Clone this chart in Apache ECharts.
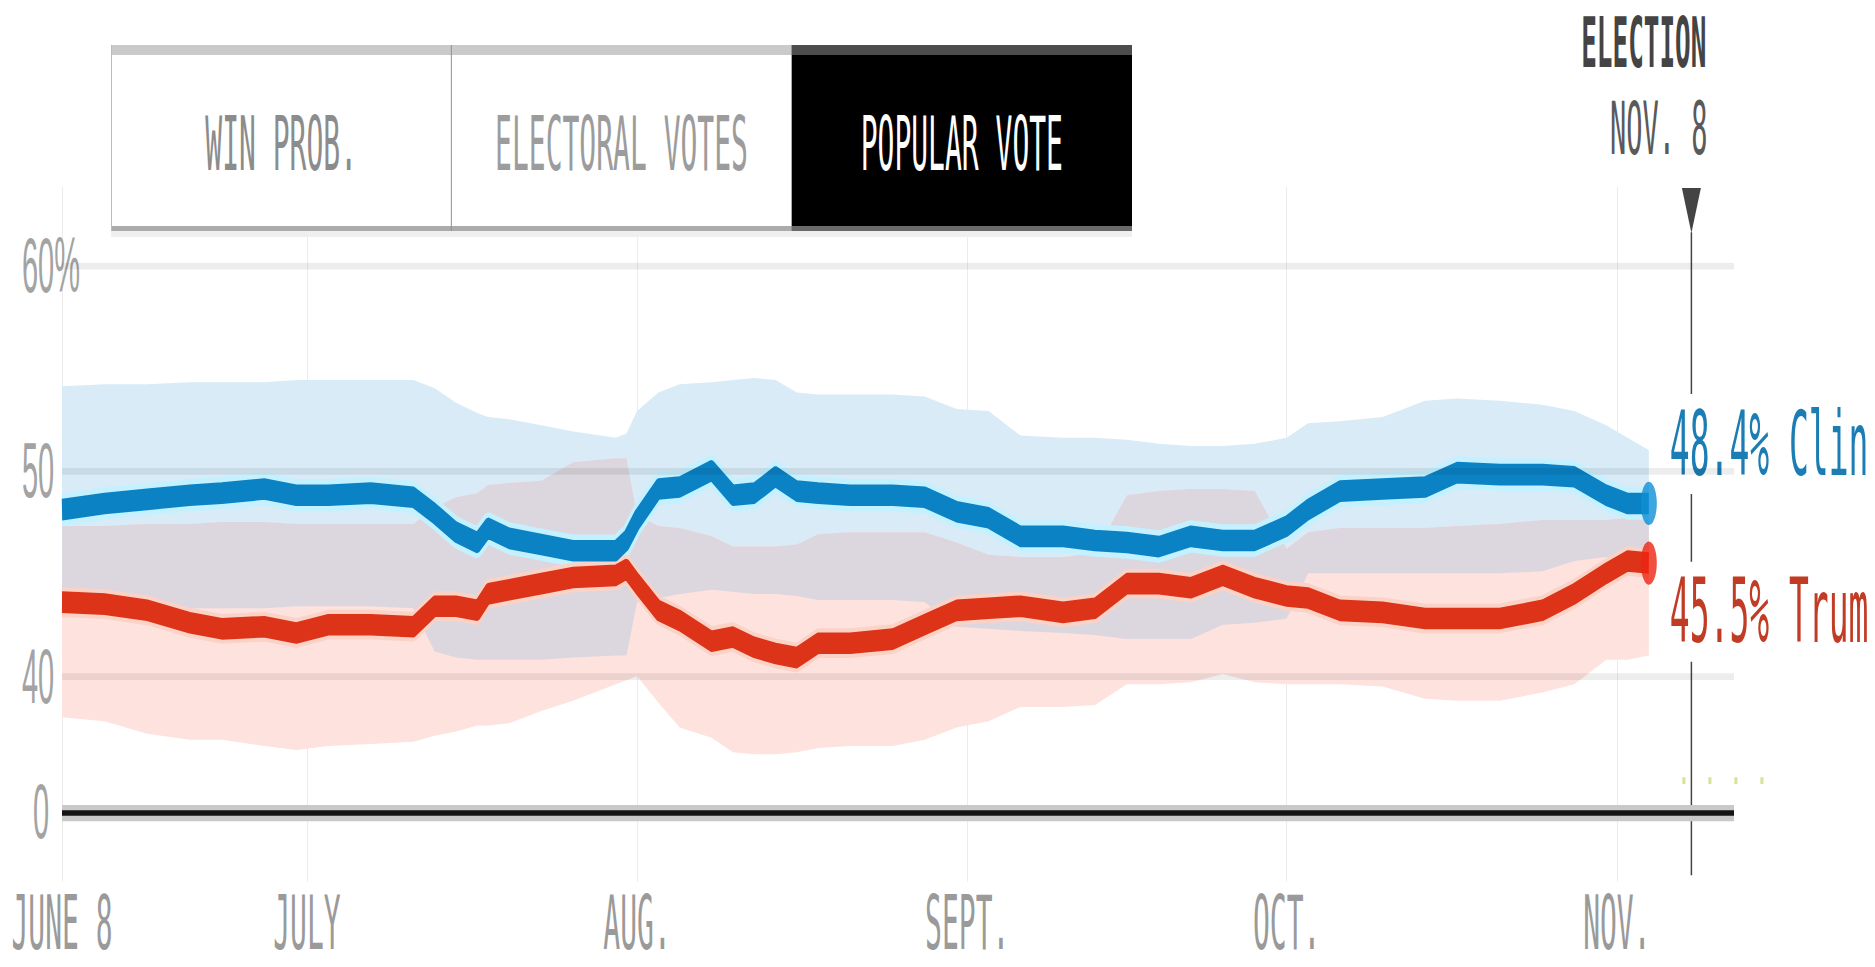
<!DOCTYPE html>
<html>
<head>
<meta charset="utf-8">
<title>Popular vote forecast</title>
<script src="https://cdn.jsdelivr.net/npm/echarts@6.0.0/dist/echarts.min.js"></script>
<style>
  html { margin: 0; padding: 0; background: #fff; overflow: hidden; }
  body { margin: 0; padding: 0; width: 1875px; height: 967px; }
  /* the source picture is stretched vertically, so the chart is drawn at its
     natural height and then stretched the same way */
  #chart { width: 1875px; height: 358px; transform: scaleY(2.7011); transform-origin: 0 0; }
</style>
</head>
<body>
<div id="chart"></div>
<script>
const MONO = '"DejaVu Sans Mono", "Liberation Mono", monospace'
// plain (undotted) zeros for the axis numbers
const NUM_FONT = '"Liberation Sans", Arial, sans-serif'

const dates = [
  '2016-06-08', '2016-06-12', '2016-06-16', '2016-06-20', '2016-06-23', '2016-06-27', '2016-06-30',
  '2016-07-03', '2016-07-07', '2016-07-11', '2016-07-13', '2016-07-15', '2016-07-17', '2016-07-18',
  '2016-07-20', '2016-07-23', '2016-07-26', '2016-07-30', '2016-07-31',
  '2016-08-01', '2016-08-03', '2016-08-05', '2016-08-08', '2016-08-10', '2016-08-12', '2016-08-14',
  '2016-08-16', '2016-08-18', '2016-08-21', '2016-08-25', '2016-08-28', '2016-08-31',
  '2016-09-03', '2016-09-06', '2016-09-10', '2016-09-13', '2016-09-16', '2016-09-19', '2016-09-22',
  '2016-09-25', '2016-09-28',
  '2016-10-01', '2016-10-03', '2016-10-06', '2016-10-10', '2016-10-14', '2016-10-17', '2016-10-21',
  '2016-10-25', '2016-10-28', '2016-10-31',
  '2016-11-02', '2016-11-04'
]

// projected popular vote share, %
const clinton = [
  48.1, 48.4, 48.6, 48.8, 48.9, 49.1, 48.8,
  48.8, 48.9, 48.7, 47.9, 47.0, 46.5, 47.2, 46.7, 46.4, 46.1, 46.1, 46.6,
  47.6, 49.1, 49.2, 50.0, 48.8, 48.9, 49.7, 49.0, 48.9, 48.8, 48.8, 48.7, 48.0,
  47.7, 46.8, 46.8, 46.6, 46.5, 46.3, 46.8, 46.6, 46.6,
  47.3, 48.1, 49.0, 49.1, 49.2, 49.9, 49.8, 49.8, 49.7, 48.8,
  48.4, 48.4
]
const trump = [
  43.6, 43.5, 43.2, 42.6, 42.3, 42.4, 42.1,
  42.5, 42.5, 42.4, 43.4, 43.4, 43.2, 44.0, 44.2, 44.5, 44.8, 44.9, 45.2,
  44.5, 43.2, 42.7, 41.7, 41.9, 41.4, 41.1, 40.9, 41.6, 41.6, 41.8, 42.5, 43.2,
  43.3, 43.4, 43.1, 43.3, 44.5, 44.5, 44.3, 44.9, 44.3,
  43.9, 43.8, 43.2, 43.1, 42.8, 42.8, 42.8, 43.2, 44.0, 45.0,
  45.6, 45.5
]

// 80% ranges
const clintonHigh = [
  54.1, 54.2, 54.2, 54.3, 54.3, 54.3, 54.4,
  54.4, 54.4, 54.4, 54.0, 53.3, 52.8, 52.6, 52.5, 52.2, 51.9, 51.6, 51.8,
  52.9, 53.8, 54.2, 54.3, 54.4, 54.5, 54.4, 53.8, 53.7, 53.7, 53.7, 53.6, 53.0,
  52.9, 51.7, 51.6, 51.6, 51.5, 51.3, 51.2, 51.2, 51.3,
  51.6, 52.3, 52.4, 52.6, 53.4, 53.5, 53.4, 53.2, 52.9, 52.2,
  51.6, 51.0
]
const clintonLow = [
  43.2, 43.2, 43.3, 43.3, 43.3, 43.3, 43.4,
  43.4, 43.4, 43.3, 41.2, 40.9, 40.8, 40.8, 40.8, 40.8, 40.9, 41.0, 41.0,
  43.6, 43.8, 44.0, 44.2, 44.1, 44.0, 44.0, 43.9, 43.7, 43.7, 43.7, 43.6, 42.4,
  42.3, 42.2, 42.1, 42.0, 41.8, 41.8, 41.8, 42.5, 42.6,
  42.8, 45.0, 45.0, 45.0, 45.0, 45.0, 45.0, 45.1, 45.6, 45.8,
  45.8, 45.8
]
const trumpHigh = [
  47.3, 47.3, 47.4, 47.4, 47.5, 47.5, 47.4,
  47.4, 47.4, 47.4, 48.2, 48.7, 48.9, 49.3, 49.4, 49.5, 50.4, 50.6, 50.6,
  47.8, 47.3, 47.2, 46.8, 46.3, 46.3, 46.3, 46.4, 46.9, 47.0, 47.0, 47.0, 46.5,
  45.9, 45.8, 45.8, 46.0, 48.8, 49.0, 49.1, 49.1, 49.0,
  46.2, 47.0, 47.2, 47.2, 47.2, 47.3, 47.4, 47.6, 47.6, 47.6,
  47.7, 47.7
]
const trumpLow = [
  38.0, 37.8, 37.2, 36.9, 36.9, 36.6, 36.4,
  36.6, 36.7, 36.8, 37.1, 37.3, 37.6, 37.6, 37.7, 38.3, 38.8, 39.6, 39.8,
  40.0, 38.7, 37.5, 37.0, 36.3, 36.2, 36.2, 36.3, 36.5, 36.6, 36.6, 36.9, 37.5,
  37.8, 38.5, 38.5, 38.6, 39.6, 39.6, 39.7, 40.1, 39.7,
  39.6, 39.6, 39.6, 39.5, 38.9, 38.8, 38.8, 39.2, 39.6, 40.8,
  40.8, 41.0
]

const xTickDates = ['2016-06-08', '2016-07-01', '2016-08-01', '2016-09-01', '2016-10-01', '2016-11-01']
const xTickLabels = ['JUNE 8', 'JULY', 'AUG.', 'SEPT.', 'OCT.', 'NOV.']
const xEnd = '2016-11-12'

// the y axis is broken: the "0" line sits just under the 40 line
const ZERO_AT = 33.4
const yTickValues = [ZERO_AT, 40, 50, 60]
const yTickLabels = ['0', '40', '50', '60%']
const gridValues = [40, 50, 60]

const tabs = ['WIN PROB.', 'ELECTORAL VOTES', 'POPULAR VOTE']
const activeTab = 2
const electionDate = '2016-11-08'

const toTime = (s) => new Date(s + 'T00:00:00').getTime()
const last = (arr) => arr[arr.length - 1]
const times = dates.map(toTime)
const pairs = (values) => times.map((t, i) => [t, values[i]])

const xTickValues = xTickDates.map(toTime)
const overlapLow = clintonLow.map((v, i) => Math.max(v, trumpLow[i]))
const overlapHigh = clintonHigh.map((v, i) => Math.min(v, trumpHigh[i]))

// shaded range between two edges, placed through the axes with api.coord
const band = (name, lo, hi, color) => ({
  name,
  type: 'custom',
  silent: true,
  z: 1,
  data: [[times[0], lo[0]]],
  renderItem: (params, api) => {
    const top = times.map((t, i) => api.coord([t, hi[i]]))
    const bottom = times.map((t, i) => api.coord([t, lo[i]])).reverse()
    return { type: 'polygon', shape: { points: top.concat(bottom) }, style: { fill: color } }
  }
})

const endLabel = (text, color, dy) => ({
  show: true,
  formatter: () => text,
  distance: 0,
  offset: [21, dy],
  color,
  fontFamily: MONO,
  fontSize: 33,
  lineHeight: 33,
  backgroundColor: '#fff',
  padding: [2, 0],
  width: 205,
  overflow: 'truncate',
  ellipsis: ''
})

const chart = echarts.init(document.getElementById('chart'), null, { renderer: 'svg' })

const option = {
  animation: false,
  grid: { left: 62, right: 141, top: 69.2, bottom: 31.6 },
  xAxis: {
    type: 'value',
    min: toTime(dates[0]),
    max: toTime(xEnd),
    axisLine: { show: false },
    axisTick: { show: false, customValues: xTickValues },
    axisLabel: {
      customValues: xTickValues,
      formatter: (val) => {
        const i = xTickValues.indexOf(val)
        return i >= 0 ? xTickLabels[i] : ''
      },
      color: '#9a9a9a',
      fontFamily: MONO,
      fontSize: 28,
      lineHeight: 26,
      margin: 15,
      verticalAlign: 'middle'
    },
    splitLine: { show: true, lineStyle: { color: '#ececec', width: 1 } }
  },
  yAxis: {
    type: 'value',
    min: 30,
    max: 63.8,
    axisLine: { show: false },
    axisTick: { show: false },
    splitLine: { show: false },
    axisLabel: {
      customValues: yTickValues,
      formatter: (val) => {
        const i = yTickValues.indexOf(val)
        if (i < 0) return ''
        return val === ZERO_AT ? '{zero|' + yTickLabels[i] + '}' : yTickLabels[i]
      },
      align: 'left',
      margin: 40,
      color: '#a3a3a3',
      fontFamily: NUM_FONT,
      fontSize: 29,
      rich: {
        zero: { padding: [0, 0, 0, 11], color: '#a3a3a3', fontFamily: NUM_FONT, fontSize: 29 }
      }
    }
  },
  series: [
    band('clintonBand', clintonLow, clintonHigh, '#d8ebf7'),
    band('trumpBand', trumpLow, trumpHigh, '#fde2de'),
    band('overlap', overlapLow, overlapHigh, '#dcd6de'),
    {
      name: 'clinton-halo', type: 'line', data: pairs(clinton), symbol: 'none', silent: true, z: 3,
      lineStyle: { color: '#c4f1ff', width: 12 },
      markLine: {
        silent: true,
        symbol: ['none', 'none'],
        label: { show: false },
        data: [
          ...gridValues.map((v) => ({ yAxis: v, lineStyle: { color: 'rgba(0,0,0,0.07)', width: 2.5, type: 'solid' } })),
          { yAxis: ZERO_AT, lineStyle: { color: '#c9c9c9', width: 6, type: 'solid' } },
          { yAxis: ZERO_AT, lineStyle: { color: '#141414', width: 2, type: 'solid' } }
        ]
      }
    },
    {
      name: 'trump-halo', type: 'line', data: pairs(trump), symbol: 'none', silent: true, z: 3,
      lineStyle: { color: '#fbd2c6', width: 11 }
    },
    {
      name: 'Clinton', type: 'line', data: pairs(clinton), symbol: 'none', z: 4,
      lineStyle: { color: '#0b82c4', width: 8 },
      endLabel: endLabel(last(clinton).toFixed(1) + '% Clinton', '#1b7db3', -22)
    },
    {
      name: 'Trump', type: 'line', data: pairs(trump), symbol: 'none', z: 4,
      lineStyle: { color: '#dc3319', width: 8 },
      endLabel: endLabel(last(trump).toFixed(1) + '% Trump', '#c23b24', 18)
    },
    {
      name: 'latest', type: 'scatter', symbolSize: 16, z: 5, silent: true,
      data: [
        { value: [last(times), last(clinton)], itemStyle: { color: '#0e8fd6' } },
        { value: [last(times), last(trump)], itemStyle: { color: '#ee2412' } }
      ]
    }
  ]
}

chart.setOption(option)

// tab bar and election marker
const ex = chart.convertToPixel({ xAxisIndex: 0 }, toTime(electionDate))
const tabLeft = 111
const tabW = (1132 - 111) / tabs.length
const tabTop = 16.7
const tabBottom = 85.5

const graphics = [
  { type: 'rect', z: 100, shape: { x: tabLeft, y: tabBottom, width: tabW * 3, height: 2.2 }, style: { fill: '#efefef' } }
]
tabs.forEach((t, i) => {
  const x = tabLeft + i * tabW
  const on = i === activeTab
  graphics.push(
    { type: 'rect', z: 100, shape: { x, y: tabTop, width: tabW, height: tabBottom - tabTop }, style: { fill: on ? '#000' : '#fff' } },
    { type: 'rect', z: 101, shape: { x, y: tabTop, width: tabW, height: 3.7 }, style: { fill: on ? '#4d4d4d' : '#cacaca' } },
    { type: 'rect', z: 101, shape: { x, y: tabBottom - 1.8, width: tabW, height: 1.8 }, style: { fill: on ? '#6a6a6a' : '#ababab' } },
    {
      type: 'text', z: 102,
      style: {
        text: t, x: x + tabW / 2, y: 53,
        font: '28px ' + MONO,
        fill: ['#8c8c8c', '#9c9c9c', '#ffffff'][i],
        align: 'center', verticalAlign: 'middle',
        textAlign: 'center', textVerticalAlign: 'middle'
      }
    }
  )
})
graphics.push(
  { type: 'line', z: 101, shape: { x1: tabLeft + 0.5, y1: tabTop, x2: tabLeft + 0.5, y2: tabBottom }, style: { stroke: '#bbbbbb', lineWidth: 1 } },
  { type: 'line', z: 101, shape: { x1: tabLeft + tabW, y1: tabTop, x2: tabLeft + tabW, y2: tabBottom }, style: { stroke: '#8f8f8f', lineWidth: 1 } },
  {
    type: 'text', z: 20,
    style: {
      text: 'ELECTION', x: ex + 15, y: 15.8, font: 'bold 26px ' + MONO, fill: '#444444', lineHeight: 26,
      align: 'right', verticalAlign: 'middle', textAlign: 'right', textVerticalAlign: 'middle'
    }
  },
  {
    type: 'text', z: 20,
    style: {
      text: 'NOV. 8', x: ex + 16, y: 47.8, font: '27px ' + MONO, fill: '#5a5a5a',
      align: 'right', verticalAlign: 'middle', textAlign: 'right', textVerticalAlign: 'middle'
    }
  },
  { type: 'polygon', z: 20, shape: { points: [[ex - 9.5, 69.6], [ex + 9.5, 69.6], [ex, 86.3]] }, style: { fill: '#444444' } },
  { type: 'line', z: 1, shape: { x1: ex, y1: 86, x2: ex, y2: 324 }, style: { stroke: '#444444', lineWidth: 1.5 } },
  { type: 'line', z: 1, shape: { x1: ex - 9, y1: 289, x2: ex + 76, y2: 289 }, style: { stroke: '#d3e39a', lineWidth: 2.5, lineDash: [3, 23] } }
)

chart.setOption({ graphic: { elements: graphics } })

window.addEventListener('resize', () => chart.resize())
</script>
</body>
</html>
